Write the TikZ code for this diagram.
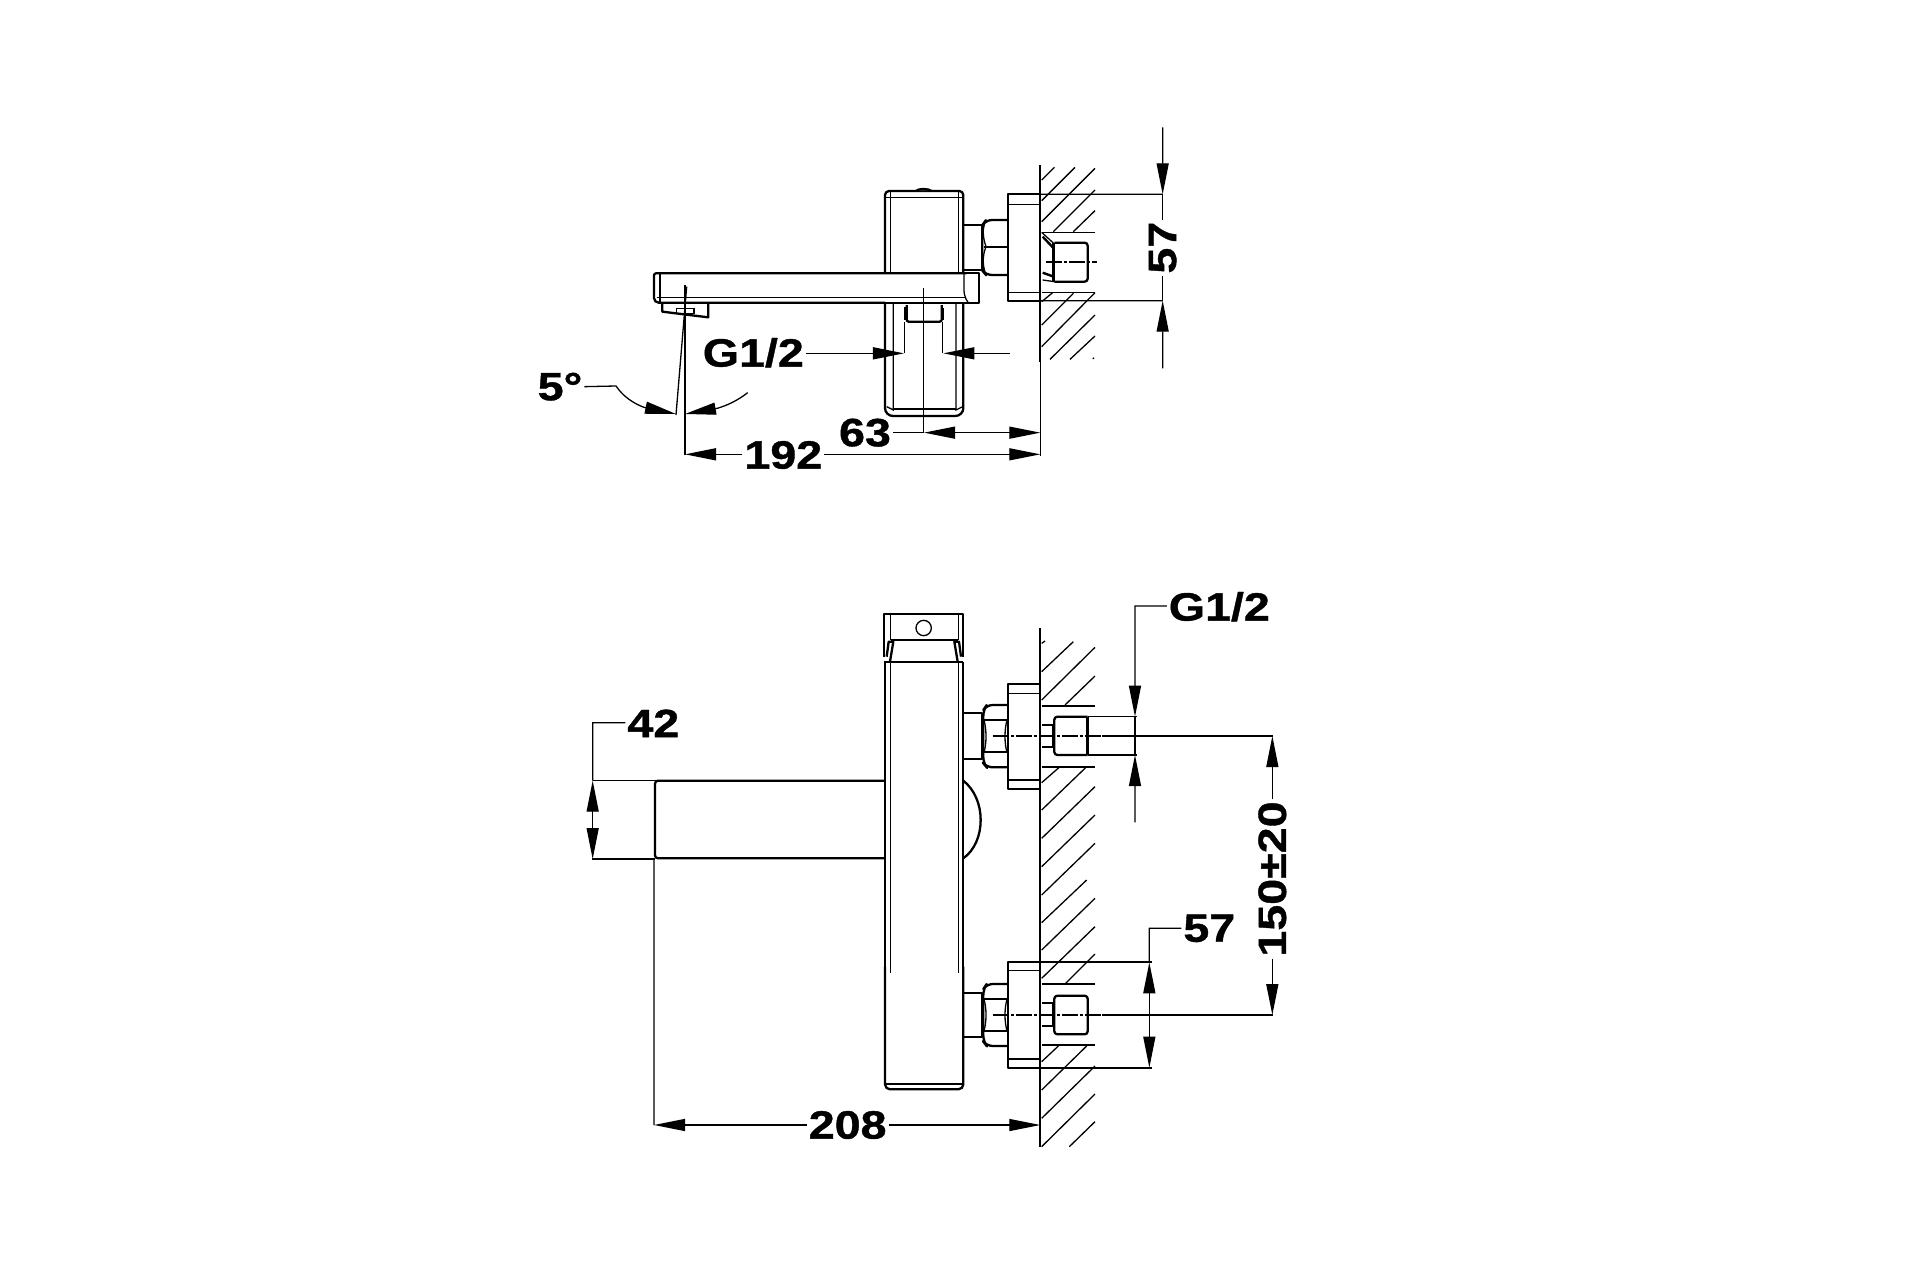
\documentclass[tikz,border=0pt]{standalone}
\usepackage{fontspec}
\usetikzlibrary{arrows.meta}
\newfontfamily\dimfont[FakeStretch=1.18,FakeBold=1.0]{Liberation Sans Bold}
\tikzset{
  zz/.style 2 args={shift={(#1,#2)},scale=1/3},
  thk/.style={line width=2.3pt,line join=round},
  thn/.style={line width=1.3pt},
  ar/.style={-{Triangle[length=31pt,width=12pt,inset=0pt]},line width=1.3pt},
  arr/.style={{Triangle[length=31pt,width=12pt,inset=0pt]}-{Triangle[length=31pt,width=12pt,inset=0pt]},line width=1.3pt},
  dimtxt/.style={font=\dimfont\fontsize{39.5}{40}\selectfont,inner sep=0pt,outer sep=2pt},
  cl/.style={line width=1.2pt,dash pattern=on 16pt off 2pt on 3pt off 2pt},
}
\begin{document}
\begin{tikzpicture}[x=1pt,y=-1pt]
\useasboundingbox[fill=white] (0,0) rectangle (1920,1280);
% ===== TOP VIEW, left part
\begin{scope}[zz={500}{110}]
  % spout
  \draw[thk,rounded corners=2pt] (1155,578) -- (470,578) -- (462,570) -- (462,490) -- (1400,490);
  \draw[thn] (480,490) -- (480,578);
  \draw[thn] (470,562) -- (1395,562);
  % nozzle
  \draw[thk] (487,580) -- (487,605) -- (625,622) -- (625,580);
  \draw[thn] (530,595) rectangle (582,610);
  % centre and slanted line
  \draw[thn] (555,525) -- (555,1035);
  \draw[thn] (560,530) -- (528,915);
  % 5 degree
  \node[dimtxt] (t5) at (180,830) {5°};
  \coordinate (a5) at (528,912);
  \coordinate (b5) at (555,912);
  \coordinate (c5) at (743,848);
  \draw[ar] (t5.east) -- (348,828) .. controls (370,860) and (400,880) .. (432,892) -- (a5);
  \draw[ar] (c5) .. controls (715,870) and (685,885) .. (652,895) -- (b5);
  % G1/2
  \node[dimtxt] (tg1) at (760,728) {G1/2};
  \coordinate (g1tip) at (1212,730);
  \draw[ar] (tg1.east |- g1tip) -- (g1tip);
  % 63
  \node[dimtxt] (t63) at (1095,968) {63};
  \coordinate (c63) at (1272,968);
  \draw[thn] (t63.east) -- (c63);
  % 192
  \node[dimtxt] (t192) at (850,1035) {192};
  \coordinate (l192) at (555,1033);
  \draw[ar] (t192.west |- l192) -- (l192);
\end{scope}
\begin{scope}[zz={860}{110}]
  % upper body
  \draw[thk,rounded corners=4pt] (75,490) -- (75,243) -- (310,243) -- (310,490);
  \draw[thn] (92,243) -- (92,490);
  \draw[thn] (295,243) -- (295,490);
  \draw[thn] (78,262) -- (307,262);
  \draw[thk,fill=black!80] (168,243) .. controls (175,235) and (205,235) .. (215,243);
  % lower body
  \draw[thk,rounded corners=8pt] (75,578) -- (75,918) -- (310,918) -- (310,578);
  \draw[thn] (100,578) -- (100,900) -- (80,890);
  \draw[thn] (288,578) -- (288,900) -- (308,890);
  \draw[thn] (100,897) -- (288,897);
  % spout end
  \draw[thk] (310,490) -- (358,490) -- (358,578) -- (0,578);
  \draw[thn,rounded corners=6pt] (312,490) -- (312,560) -- (325,578);
  % valve piece
  \draw[thk,rounded corners=2pt] (140,585) -- (140,635) -- (245,635) -- (245,585);
  \draw[thk] (136,590) -- (136,630);
  \draw[thk] (248,595) -- (248,630);
  \draw[thn] (133,635) -- (133,730);
  \draw[thn] (248,635) -- (248,730);
  \draw[thn] (191,535) -- (191,970);
  % right G1/2 head
  \coordinate (g2tip) at (250,730);
  \coordinate (g2end) at (450,730);
  \draw[ar] (g2end) -- (g2tip);
  % nut and link
  \draw[thk] (312,345) -- (365,345);
  \draw[thk] (312,480) -- (365,480);
  \draw[thk] (365,345) -- (365,480);
  \draw[thk,rounded corners=6pt] (443,330) -- (378,330) -- (367,345) -- (367,482) -- (378,495) -- (443,495);
  \draw[thk] (372,410) -- (443,410);
  \draw[thn] (378,410) .. controls (366,375) and (368,350) .. (378,330);
  \draw[thn] (378,410) .. controls (366,440) and (368,470) .. (378,495);
  % flange
  \draw[thk] (541,253) -- (443,253) -- (443,572) -- (541,572);
  \draw[thn] (443,283) -- (541,283);
  \draw[thn] (443,547) -- (541,547);
  % wall
  \draw[thk] (541,165) -- (541,755);
  \draw[thn] (541,755) -- (541,1037);
  % hatching
  \foreach \a/\b/\c/\d in {545/210/583/172,545/272/645/172,545/335/705/175,580/365/705/240,640/365/705/302,
    545/575/578/548,545/645/640/550,545/710/705/548,570/748/705/615,630/748/705/678}
    {\draw[thn] (\a,\b) -- (\c,\d);}
  \fill (700,745) circle (3pt);
  \draw[thn] (545,367) -- (705,367);
  \draw[thn] (545,548) -- (705,548);
  % inlet
  \draw[thk,rounded corners=3pt] (583,398) -- (683,398) -- (683,515) -- (583,515);
  \draw[line width=2.8pt] (581,400) -- (581,515);
  \draw[line width=2.4pt] (548,380) -- (581,415);
  \draw[line width=2.4pt] (548,488) -- (581,500);
  \draw[thn] (545,367) -- (581,400);
  \draw[thn] (548,510) -- (583,515);
  \draw[cl] (558,456) -- (712,456);
  % 63 and 192 right parts
  \coordinate (w63) at (541,968);
  \coordinate (w192) at (541,1033);
  \draw[arr] (c63) -- (w63);
  \draw[ar] (t192.east |- w192) -- (w192);
  % 57
  \node[dimtxt,rotate=90] (t57a) at (908,413) {57};
  \coordinate (up57) at (908,253);
  \coordinate (dn57) at (908,572);
  \draw[thn] (443,253) -- (up57);
  \draw[thn] (443,572) -- (dn57);
  \draw[ar] (908,52) -- (up57);
  \draw[ar] (908,775) -- (dn57);
  \draw[thn] (up57) -- (t57a.east);
  \draw[thn] (t57a.west) -- (dn57);
\end{scope}
% ===== LOWER VIEW
\begin{scope}[zz={570}{690}]
  \node[dimtxt] (t42) at (250,100) {42};
  \coordinate (u42) at (68,272);
  \coordinate (d42) at (68,507);
  \draw[thn] (t42.west |- 0,98) -- (68,98) -- (u42);
  \draw[arr] (u42) -- (d42);
  \draw[thn] (68,272) -- (260,272);
  \draw[thn] (65,507) -- (255,507);
  \draw[thk,rounded corners=3pt] (945,272) -- (255,272) -- (255,505) -- (945,505);
  \node[dimtxt] (t208) at (833,1305) {208};
  \coordinate (l208) at (252,1305);
  \draw[thn] (252,507) -- (l208);
  \draw[ar] (t208.west) -- (l208);
\end{scope}
\begin{scope}[zz={860}{590}]
  % cap
  \draw[thk] (73,200) -- (73,72) -- (310,72) -- (310,200);
  \draw[thn] (92,72) -- (92,150);
  \draw[thn] (295,72) -- (295,150);
  \draw[thk] (92,150) -- (295,150);
  \draw[thk] (80,200) -- (86,155) -- (100,155) -- (90,215);
  \draw[thk] (303,200) -- (297,155) -- (283,155) -- (293,215);
  \draw[thn] (191,114) circle (23pt);
  \draw[thk] (73,215) -- (310,215);
  % body
  \draw[thk] (75,215) -- (75,1150);
  \draw[thk] (310,215) -- (310,1150);
  \draw[thn] (92,215) -- (92,1150);
  \draw[thn] (296,215) -- (296,1150);
  % half-circle
  \draw[thk] (310,572) .. controls (345,600) and (362,645) .. (362,690) .. controls (362,735) and (345,780) .. (310,805);
  % link
  \draw[thk] (310,370) -- (365,370) -- (365,508) -- (310,508);
  % nut
  \draw[thk,rounded corners=6pt] (443,345) -- (380,345) -- (370,360) -- (370,520) -- (380,532) -- (443,532);
  \draw[thk] (372,390) -- (443,390);
  \draw[thk] (372,487) -- (443,487);
  \draw[thn] (372,390) .. controls (380,420) and (380,460) .. (372,487);
  \draw[thn] (441,390) .. controls (433,420) and (433,460) .. (441,487);
  % flange
  \draw[thk] (541,282) -- (443,282) -- (443,597) -- (541,597);
  \draw[thn] (443,310) -- (541,310);
  \draw[thn] (443,570) -- (541,570);
  % wall
  \draw[thk] (541,115) -- (541,1670);
  \draw[thk] (545,347) -- (705,347);
  \draw[thk] (545,530) -- (705,530);
  % inlet
  \draw[thk,rounded corners=3pt] (683,380) -- (583,380) -- (583,495) -- (683,495);
  \draw[line width=2.8pt] (683,380) -- (683,495);
  \draw[thk] (545,405) -- (578,405) -- (578,470) -- (545,470);
  \draw[thn] (683,380) -- (830,380);
  \draw[thn] (683,495) -- (830,495);
  % centre line
  \draw[cl] (398,438) -- (725,438);
  \draw[thn] (725,438) -- (1240,438);
  % G1/2
  \node[dimtxt] (tg3) at (1078,50) {G1/2};
  \coordinate (gt) at (825,380);
  \coordinate (gb) at (825,495);
  \draw[ar] (tg3.west |- 0,48) -- (825,48) -- (gt);
  \draw[ar] (825,697) -- (gb);
  \draw[thn] (gt) -- (gb);
  % 150
  \node[dimtxt,rotate=90] (t150) at (1237,867) {150±20};
  \coordinate (c150a) at (1237,438);
  \draw[ar] (t150.east) -- (c150a);
  % hatching
  \foreach \a/\b/\c/\d in {545/245/640/155,545/330/705/172,615/345/705/258,
    545/160/555/153,545/578/600/530,545/660/680/530,545/745/705/590,545/830/705/675,545/915/705/760}
    {\draw[thn] (\a,\b) -- (\c,\d);}
\end{scope}
\begin{scope}[zz={860}{880}]
  \draw[thn] (75,612) -- (310,612);
  \draw[thk,rounded corners=5pt] (75,260) -- (75,628) -- (310,628) -- (310,260);
  % link
  \draw[thk] (310,338) -- (365,338) -- (365,470) -- (310,470);
  % nut
  \draw[thk,rounded corners=6pt] (443,312) -- (380,312) -- (370,327) -- (370,485) -- (380,498) -- (443,498);
  \draw[thk] (372,358) -- (443,358);
  \draw[thk] (372,452) -- (443,452);
  \draw[thn] (372,358) .. controls (380,385) and (380,425) .. (372,452);
  \draw[thn] (441,358) .. controls (433,385) and (433,425) .. (441,452);
  % flange
  \draw[thk] (875,245) -- (443,245) -- (443,565) -- (875,565);
  \draw[thn] (443,272) -- (541,272);
  \draw[thn] (443,537) -- (541,537);
  % opening
  \draw[thk] (545,312) -- (705,312);
  \draw[thk] (545,495) -- (705,495);
  % inlet
  \draw[thk,rounded corners=3pt] (583,347) rectangle (683,463);
  \draw[thk] (545,370) -- (578,370) -- (578,437) -- (545,437);
  % centre line
  \draw[cl] (398,405) -- (725,405);
  \draw[thn] (725,405) -- (1240,405);
  % 150 lower
  \coordinate (c150b) at (1237,405);
  \draw[ar] (t150.west) -- (c150b);
  % 57
  \node[dimtxt] (t57b) at (1048,145) {57};
  \coordinate (u57) at (868,247);
  \coordinate (d57) at (868,563);
  \draw[thn] (t57b.west |- 0,145) -- (868,145) -- (u57);
  \draw[arr] (u57) -- (d57);
  % 208 right
  \coordinate (r208) at (541,735);
  \draw[ar] (t208.east |- r208) -- (r208);
  % hatching
  \foreach \a/\b/\c/\d in {545/128/680/0,545/210/705/55,545/295/705/140,615/312/705/222,
    545/545/595/498,545/630/680/498,545/715/705/558,545/800/705/642,628/800/705/725}
    {\draw[thn] (\a,\b) -- (\c,\d);}
\end{scope}
\end{tikzpicture}
\end{document}
